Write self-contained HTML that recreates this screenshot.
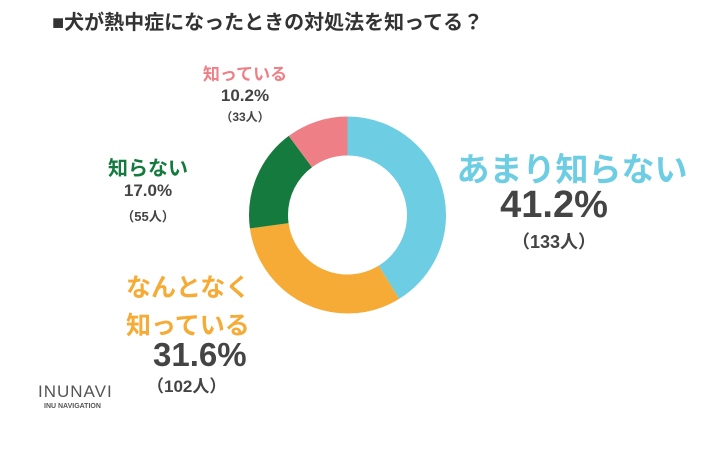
<!DOCTYPE html>
<html><head><meta charset="utf-8"><style>
body{margin:0;width:709px;height:454px;background:#fff;overflow:hidden;position:relative;font-family:"Liberation Sans","Noto Sans CJK JP",sans-serif;}
.t{position:absolute;white-space:nowrap;font-weight:bold;text-align:center;}
</style></head><body>
<div class="t" style="left:52px;top:6px;font-size:20px;color:#333;">■犬が熱中症になったときの対処法を知ってる？</div>
<svg style="position:absolute;left:0;top:0" width="709" height="454">
<g transform="translate(347.5,215)">
<circle r="79" fill="none" stroke="#6dcde3" stroke-width="39" stroke-dasharray="204.5 1000" transform="rotate(-90)"/>
<circle r="79" fill="none" stroke="#f5ab35" stroke-width="39" stroke-dasharray="0 204.5 156.8 1000" transform="rotate(-90)"/>
<circle r="79" fill="none" stroke="#157a3e" stroke-width="39" stroke-dasharray="0 361.3 84.4 1000" transform="rotate(-90)"/>
<circle r="79" fill="none" stroke="#ef7f87" stroke-width="39" stroke-dasharray="0 445.7 50.7 1000" transform="rotate(-90)"/>
</g>
</svg>
<div class="t" style="left:195px;top:60px;width:100px;font-size:17px;color:#ef7f87;">知っている</div>
<div class="t" style="left:195px;top:86px;width:100px;font-size:17px;color:#444;">10.2%</div>
<div class="t" style="left:195px;top:108px;width:100px;font-size:12px;color:#444;">（33人）</div>
<div class="t" style="left:98px;top:152px;width:100px;font-size:20px;color:#157a3e;">知らない</div>
<div class="t" style="left:98px;top:181px;width:100px;font-size:17px;color:#444;">17.0%</div>
<div class="t" style="left:98px;top:206px;width:100px;font-size:13px;color:#444;">（55人）</div>
<div class="t" style="left:448px;top:143px;width:248px;font-size:33px;color:#6dcde3;">あまり知らない</div>
<div class="t" style="left:448px;top:184px;width:212px;font-size:38px;color:#444;">41.2%</div>
<div class="t" style="left:448px;top:228px;width:212px;font-size:18px;color:#444;">（133人）</div>
<div class="t" style="left:126px;top:268px;font-size:25px;color:#f5ab35;">なんとなく</div>
<div class="t" style="left:126px;top:306px;font-size:25px;color:#f5ab35;">知っている</div>
<div class="t" style="left:153px;top:336px;font-size:33px;color:#444;">31.6%</div>
<div class="t" style="left:147px;top:372px;font-size:17px;color:#444;">（102人）</div>
<div class="t" style="left:38px;top:382px;font-size:17px;color:#555;font-weight:normal;letter-spacing:1px;">INUNAVI</div>
<div class="t" style="left:44px;top:403px;font-size:7px;color:#555;">INU NAVIGATION</div>
</body></html>
